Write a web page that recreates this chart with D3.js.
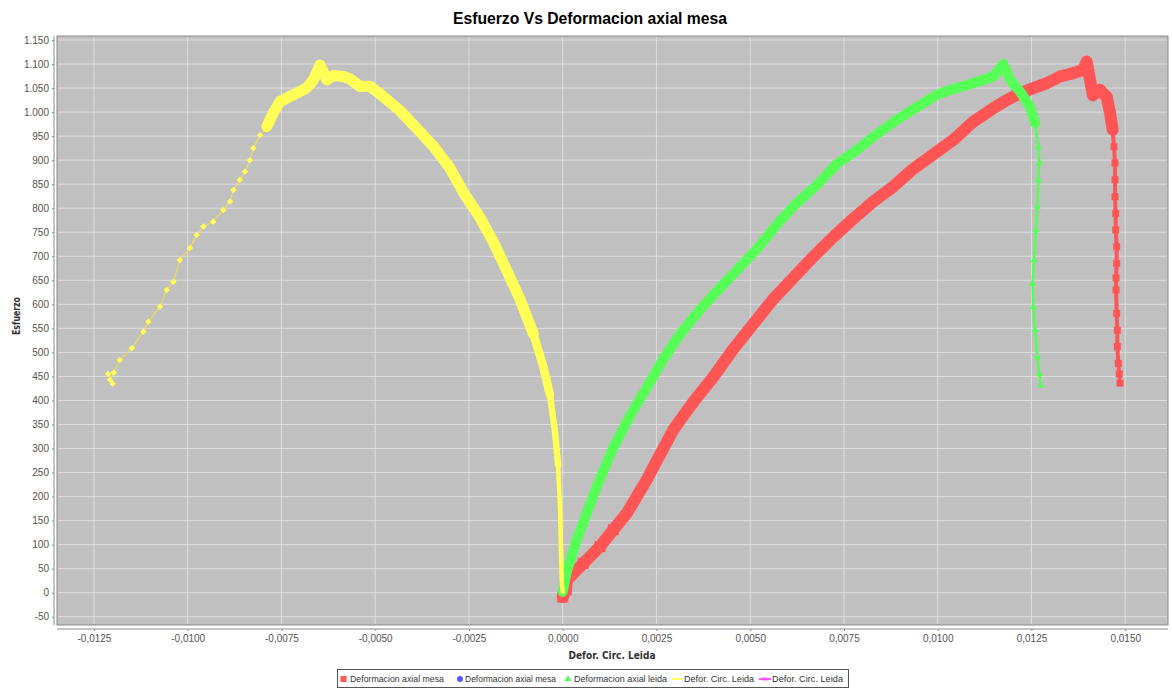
<!DOCTYPE html>
<html><head><meta charset="utf-8">
<script src="https://cdn.jsdelivr.net/npm/d3@7"></script>
<style>
html,body{margin:0;padding:0;background:#fff;}
svg{display:block;}
</style></head>
<body>
<svg id="chart" width="1172" height="690"></svg>
<script>
// ---------- DATA ----------
const chartTitle = "Esfuerzo Vs Deformacion axial mesa";
const xLabel = "Defor. Circ. Leida";
const yLabel = "Esfuerzo";
const xTicks = [-0.0125,-0.0100,-0.0075,-0.0050,-0.0025,0.0000,0.0025,0.0050,0.0075,0.0100,0.0125,0.0150];
const xTickLabels = ["-0,0125","-0,0100","-0,0075","-0,0050","-0,0025","0,0000","0,0025","0,0050","0,0075","0,0100","0,0125","0,0150"];
const yTicks = [-50,0,50,100,150,200,250,300,350,400,450,500,550,600,650,700,750,800,850,900,950,1000,1050,1100,1150];
const yTickLabels = ["-50","0","50","100","150","200","250","300","350","400","450","500","550","600","650","700","750","800","850","900","950","1.000","1.050","1.100","1.150"];
const legendNames = ["Deformacion axial mesa","Deformacion axial mesa","Deformacion axial leida","Defor. Circ. Leida","Defor. Circ. Leida"];

// Defor. Circ. Leida (yellow) – sparse tail on the left
const yellowTail = [[-0.01212,455],[-0.01200,435],[-0.01207,443],[-0.01197,458],[-0.01181,484],[-0.01149,509],[-0.01118,543],[-0.01105,564],[-0.01074,595],[-0.01056,630],[-0.01038,647],[-0.01021,692],[-0.00994,717],[-0.00976,744],[-0.00958,762],[-0.00932,772],[-0.00905,796],[-0.00887,814],[-0.00878,838],[-0.00861,859],[-0.00847,876],[-0.00834,900],[-0.00825,925],[-0.00807,952],[-0.00789,970]];
// Defor. Circ. Leida (yellow) – dense band
const yellowBand = [[-0.00789,970],[-0.00772,998],[-0.00754,1022],[-0.00718,1036],[-0.00683,1050],[-0.00665,1067],[-0.00647,1098],[-0.00629,1067],[-0.00612,1076],[-0.00585,1074],[-0.00567,1069],[-0.00540,1053],[-0.00514,1054],[-0.00478,1032],[-0.00434,1003],[-0.00389,966],[-0.00345,929],[-0.00301,884],[-0.00265,833],[-0.00221,781],[-0.00185,730],[-0.00149,670],[-0.00114,611],[-0.00078,538],[-0.00052,471],[-0.00034,412],[-0.00021,338],[-0.00012,265],[-0.00007,172],[-0.000045,89],[-0.00002,16],[0.0,2]];
// Deformacion axial leida (green)
const greenBand = [[0.0,2],[0.000107,43],[0.000373,110],[0.00064,165],[0.000907,220],[0.001349,302],[0.001795,368],[0.00224,427],[0.002683,486],[0.003128,538],[0.003661,589],[0.004195,634],[0.004728,678],[0.005173,715],[0.005707,766],[0.00624,811],[0.006773,848],[0.007307,892],[0.00784,921],[0.008373,954],[0.008907,984],[0.00944,1010],[0.009973,1036],[0.010328,1046],[0.010773,1056],[0.011216,1067],[0.011483,1074],[0.011749,1100],[0.011928,1067],[0.012195,1043],[0.012461,1011],[0.012595,977]];
const greenTail = [[0.012595,977],[0.012683,928],[0.012710,894],[0.012683,859],[0.012656,803],[0.012621,754],[0.012568,692],[0.012531,643],[0.012549,594],[0.012595,546],[0.012656,490],[0.012710,455],[0.012747,431]];
// Deformacion axial mesa (red)
const redBand = [[0.0,-9],[0.00009,6],[0.000107,26],[0.000549,61],[0.000995,96],[0.001349,131],[0.001707,165],[0.00224,235],[0.002949,339],[0.003483,397],[0.004016,449],[0.004549,507],[0.005083,559],[0.005616,611],[0.006149,655],[0.006683,699],[0.007216,740],[0.007749,778],[0.008283,814],[0.008816,845],[0.009349,882],[0.009883,912],[0.010416,942],[0.010949,980],[0.011483,1008],[0.01184,1025],[0.012195,1039],[0.012549,1050],[0.012907,1060],[0.013261,1074],[0.013616,1081],[0.013883,1088],[0.013973,1105],[0.014061,1067],[0.01414,1035],[0.014328,1046],[0.014507,1032],[0.014595,998],[0.014667,963]];
const redTail = [[0.014667,963],[0.014701,928],[0.014728,894],[0.014728,859],[0.014728,824],[0.014747,789],[0.014747,755],[0.014773,720],[0.014773,685],[0.014755,655],[0.014755,630],[0.014773,581],[0.014789,546],[0.014789,512],[0.014816,477],[0.014840,455],[0.014861,436]];

// ---------- LAYOUT ----------
const plot = {left:57, right:1168, top:36, bottom:625};
const COL = {red:"#FF5555", blue:"#5555FF", green:"#55FF55", yellow:"#FFFF55", magenta:"#FF55FF"};

const svg = d3.select("#chart");
const x = d3.scaleLinear().domain([-0.013485, 0.016141]).range([plot.left, plot.right]);
const y = d3.scaleLinear().domain([-67.2, 1158.3]).range([plot.bottom, plot.top]);

// Title
svg.append("text").attr("x", 590).attr("y", 24).attr("text-anchor","middle")
  .attr("font-family","'Liberation Sans Narrow','Liberation Sans',Arial,sans-serif")
  .attr("font-weight","bold").attr("font-size",16).attr("fill","#000")
  .attr("textLength",274).attr("lengthAdjust","spacingAndGlyphs")
  .text(chartTitle);

// Plot background
svg.append("rect").attr("x",plot.left).attr("y",plot.top)
  .attr("width",plot.right-plot.left).attr("height",plot.bottom-plot.top)
  .attr("fill","#C0C0C0").attr("stroke","#8a8a8a").attr("stroke-width",1);

// Gridlines
const grid = svg.append("g");
grid.selectAll("line.gx").data(xTicks).enter().append("line")
  .attr("x1",d=>x(d)).attr("x2",d=>x(d)).attr("y1",plot.top+1).attr("y2",plot.bottom-1)
  .attr("stroke","#e4e4e4").attr("stroke-width",0.8);
grid.selectAll("line.gy").data(yTicks).enter().append("line")
  .attr("y1",d=>y(d)).attr("y2",d=>y(d)).attr("x1",plot.left+1).attr("x2",plot.right-1)
  .attr("stroke","#e4e4e4").attr("stroke-width",0.8);

// Axes
const yAxis = d3.axisLeft(y).tickValues(yTicks).tickSize(2).tickPadding(3)
  .tickFormat((d,i)=>yTickLabels[i]);
const gy = svg.append("g").attr("transform",`translate(${plot.left-3},0)`).call(yAxis);
gy.select(".domain").attr("stroke","#8a8a8a").attr("d",`M0,${plot.top}V${plot.bottom}`);
const xAxis = d3.axisBottom(x).tickValues(xTicks).tickSize(2).tickPadding(4)
  .tickFormat((d,i)=>xTickLabels[i]);
const gx = svg.append("g").attr("transform",`translate(0,${plot.bottom+4})`).call(xAxis);
gx.select(".domain").attr("stroke","#8a8a8a").attr("d",`M${plot.left},0H${plot.right}`);
[gx,gy].forEach(g=>{
  g.selectAll(".tick line").attr("stroke","#8a8a8a");
  g.selectAll(".tick text").attr("fill","#555").attr("font-size",10)
    .attr("font-family","'Liberation Sans',Arial,sans-serif");
});

// Axis labels
svg.append("text").attr("x",612).attr("y",659).attr("text-anchor","middle")
  .attr("font-family","'DejaVu Sans',Verdana,sans-serif").attr("font-weight","bold")
  .attr("font-size",11).attr("fill","#333")
  .attr("textLength",87).attr("lengthAdjust","spacingAndGlyphs").text(xLabel);
svg.append("text").attr("transform","translate(20,316) rotate(-90)").attr("text-anchor","middle")
  .attr("font-family","'DejaVu Sans',Verdana,sans-serif").attr("font-weight","bold")
  .attr("font-size",10).attr("fill","#333")
  .attr("textLength",38).attr("lengthAdjust","spacingAndGlyphs").text(yLabel);

// Series
svg.append("defs").append("clipPath").attr("id","pc").append("rect")
  .attr("x",plot.left).attr("y",plot.top).attr("width",plot.right-plot.left).attr("height",plot.bottom-plot.top);
const g = svg.append("g").attr("clip-path","url(#pc)");
const line = d3.line().x(d=>x(d[0])).y(d=>y(d[1]));

function band(data, color, w){
  g.append("path").datum(data).attr("d",line).attr("fill","none")
    .attr("stroke",color).attr("stroke-width",w)
    .attr("stroke-linejoin","round").attr("stroke-linecap","round");
}
// red
band(redBand, COL.red, 12);
g.append("path").datum(redTail).attr("d",line).attr("fill","none")
  .attr("stroke",COL.red).attr("stroke-width",4);
g.selectAll("rect.rt").data(redTail).enter().append("rect")
  .attr("x",d=>x(d[0])-3.5).attr("y",d=>y(d[1])-3.5).attr("width",7).attr("height",7).attr("fill",COL.red);
g.selectAll("rect.rb").data(redBand.slice(0,6)).enter().append("rect")
  .attr("x",d=>x(d[0])-5.5).attr("y",d=>y(d[1])-5.5).attr("width",11).attr("height",11).attr("fill",COL.red);
// green
band(greenBand, COL.green, 10);
g.append("path").datum(greenTail).attr("d",line).attr("fill","none")
  .attr("stroke",COL.green).attr("stroke-width",2.5);
g.selectAll("path.gt").data(greenTail).enter().append("path")
  .attr("transform",d=>`translate(${x(d[0])},${y(d[1])})`)
  .attr("d",d3.symbol(d3.symbolTriangle,22)).attr("fill",COL.green);
// yellow
g.append("path").datum(yellowTail).attr("d",line).attr("fill","none")
  .attr("stroke","#F2D85A").attr("stroke-width",1.2);
g.selectAll("path.yt").data(yellowTail).enter().append("path")
  .attr("transform",d=>`translate(${x(d[0])},${y(d[1])}) rotate(45)`)
  .attr("d",d3.symbol(d3.symbolSquare,20)).attr("fill",COL.yellow);
band(yellowBand.slice(0,24), COL.yellow, 11);
band(yellowBand.slice(23,26), COL.yellow, 8.5);
band(yellowBand.slice(25,28), COL.yellow, 6.5);
band(yellowBand.slice(27), COL.yellow, 4.5);

// Legend
const lg = svg.append("g");
lg.append("rect").attr("x",337.5).attr("y",669.5).attr("width",511).attr("height",18)
  .attr("fill","#fff").attr("stroke","#555").attr("stroke-width",1);
const legendItems = [
  {name:legendNames[0], color:COL.red, kind:"square", sx:343.5, tx:350},
  {name:legendNames[1], color:COL.blue, kind:"circle", sx:460, tx:465},
  {name:legendNames[2], color:COL.green, kind:"triangle", sx:568, tx:574},
  {name:legendNames[3], color:COL.yellow, kind:"line", sx:677, tx:684},
  {name:legendNames[4], color:COL.magenta, kind:"linemark", sx:765, tx:772}
];
const legendWidths = [94,91,93,70,71];
legendItems.forEach((it,i)=>{
  const cy = 679;
  if(it.kind==="square") lg.append("rect").attr("x",it.sx-3).attr("y",cy-3).attr("width",6).attr("height",6).attr("fill",it.color);
  if(it.kind==="circle") lg.append("circle").attr("cx",it.sx).attr("cy",cy).attr("r",3).attr("fill",it.color);
  if(it.kind==="triangle") lg.append("path").attr("transform",`translate(${it.sx},${cy})`).attr("d",d3.symbol(d3.symbolTriangle,20)).attr("fill",it.color);
  if(it.kind==="line") lg.append("line").attr("x1",it.sx-5).attr("x2",it.sx+5).attr("y1",cy).attr("y2",cy).attr("stroke",it.color).attr("stroke-width",2);
  if(it.kind==="linemark"){
    lg.append("line").attr("x1",it.sx-6).attr("x2",it.sx+6).attr("y1",cy).attr("y2",cy).attr("stroke",it.color).attr("stroke-width",2);
    lg.append("rect").attr("x",it.sx-2.5).attr("y",cy-1.5).attr("width",5).attr("height",3).attr("fill",it.color);
  }
  lg.append("text").attr("x",it.tx).attr("y",cy+3.2).attr("font-size",9)
    .attr("font-family","'Liberation Sans',Arial,sans-serif").attr("fill","#333")
    .attr("textLength",legendWidths[i]).attr("lengthAdjust","spacingAndGlyphs").text(it.name);
});
</script>
</body></html>
